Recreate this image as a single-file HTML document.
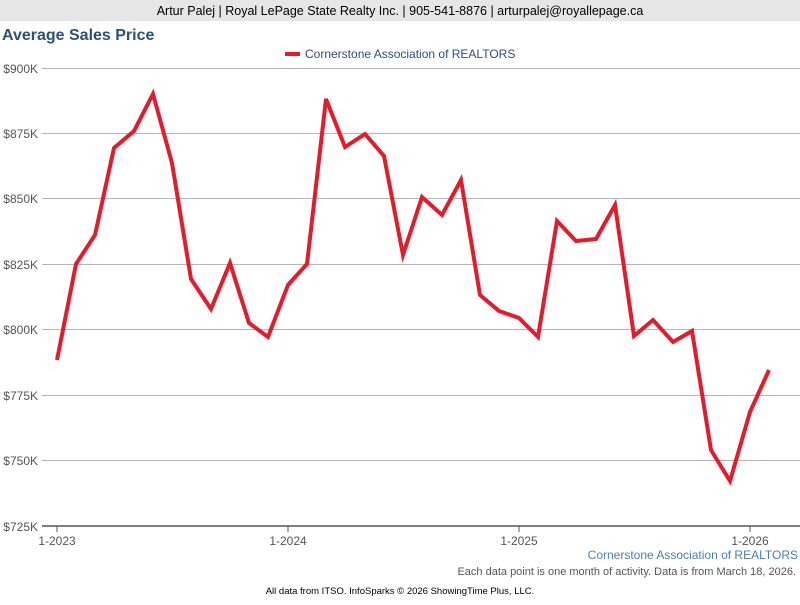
<!DOCTYPE html>
<html><head><meta charset="utf-8"><style>
body{margin:0;width:800px;height:600px;background:#fff;overflow:hidden;font-family:"Liberation Sans",sans-serif;}
</style></head><body>
<svg width="800" height="600" xmlns="http://www.w3.org/2000/svg" font-family="Liberation Sans, sans-serif">
<rect x="0" y="0" width="800" height="21" fill="#e6e6e6"/>
<text x="400" y="15" font-size="12.5" text-anchor="middle" fill="#000">Artur Palej | Royal LePage State Realty Inc. | 905-541-8876 | arturpalej@royallepage.ca</text>
<text x="2" y="40" font-size="16" font-weight="bold" fill="#2b4f7a">Average Sales Price</text>
<line x1="285" y1="54" x2="300" y2="54" stroke="#e31b2b" stroke-width="4"/>
<text x="305" y="58" font-size="12" fill="#2b4f7a">Cornerstone Association of REALTORS</text>
<g stroke="#b5b5b5" stroke-width="1">
<line x1="42" y1="68.5" x2="800" y2="68.5"/>
<line x1="42" y1="133.5" x2="800" y2="133.5"/>
<line x1="42" y1="198.5" x2="800" y2="198.5"/>
<line x1="42" y1="264.5" x2="800" y2="264.5"/>
<line x1="42" y1="329.5" x2="800" y2="329.5"/>
<line x1="42" y1="395.5" x2="800" y2="395.5"/>
<line x1="42" y1="460.5" x2="800" y2="460.5"/>
</g>
<line x1="42" y1="526" x2="800" y2="526" stroke="#555" stroke-width="1.5"/>
<g stroke="#555" stroke-width="1"><line x1="57" y1="526" x2="57" y2="532"/><line x1="288" y1="526" x2="288" y2="532"/><line x1="519" y1="526" x2="519" y2="532"/><line x1="750" y1="526" x2="750" y2="532"/></g>
<g font-size="12" fill="#555" text-anchor="end">
<text x="38" y="73">$900K</text><text x="38" y="138">$875K</text><text x="38" y="203">$850K</text><text x="38" y="269">$825K</text><text x="38" y="334">$800K</text><text x="38" y="400">$775K</text><text x="38" y="465">$750K</text><text x="38" y="531">$725K</text>
</g>
<g font-size="12" fill="#555" text-anchor="middle">
<text x="57" y="545">1-2023</text><text x="288" y="545">1-2024</text><text x="519" y="545">1-2025</text><text x="750" y="545">1-2026</text>
</g>
<polyline fill="none" stroke="#e31b2b" stroke-width="4" stroke-linejoin="miter" points="57,360 76,264 95,235 114,148 134,131 153,94 172,163 191,279 211,309 230,263 249,323 268,337 288,285 307,264 326,99 345,147 365,134 384,156 403,255 422,197 442,215 461,180 480,295 499,311 519,318 538,337 557,221 576,241 596,239 615,205 634,336 653,320 673,342 692,331 711,450 730,481 750,412 769,370"/>
<text x="798" y="559" font-size="12" fill="#4a7fb5" text-anchor="end">Cornerstone Association of REALTORS</text>
<text x="796" y="575" font-size="11" fill="#555" text-anchor="end">Each data point is one month of activity. Data is from March 18, 2026.</text>
<text x="400" y="594" font-size="9.5" fill="#000" text-anchor="middle">All data from ITSO. InfoSparks © 2026 ShowingTime Plus, LLC.</text>
</svg>
</body></html>
